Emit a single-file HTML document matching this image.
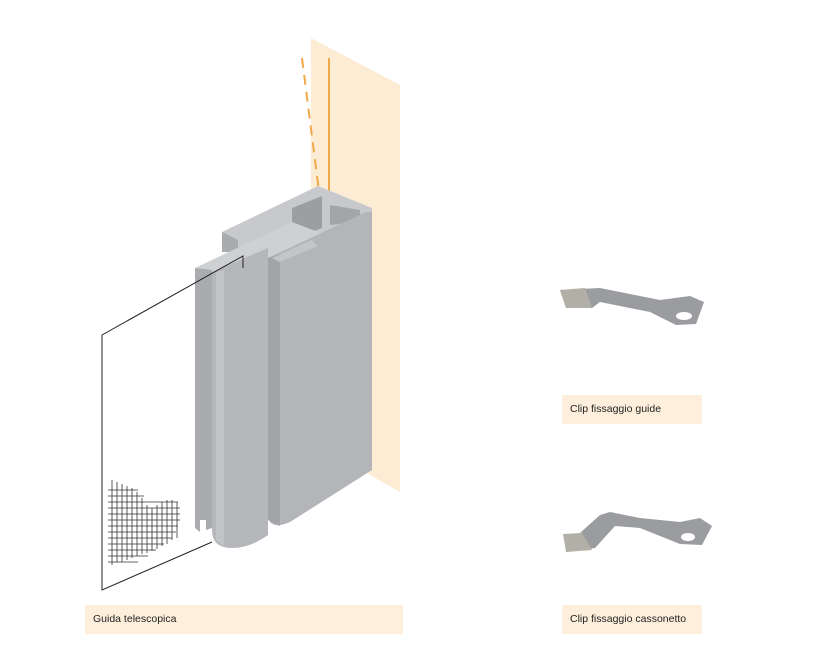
<!DOCTYPE html>
<html><head><style>
body{margin:0;background:#fff;width:815px;height:659px;overflow:hidden;font-family:"Liberation Sans",sans-serif}
.l{position:absolute;background:#fdefdc;font-size:10.5px;color:#222;line-height:29px;padding-left:8px;box-sizing:border-box}
</style></head><body>
<svg width="815" height="659" style="position:absolute;left:0;top:0">
<polygon points="311,38 400,85 400,492 372,476 311,440" fill="#fde9cc" opacity="0.85"/>
<line x1="302" y1="58" x2="322" y2="215" stroke="#f0a94a" stroke-width="2" stroke-dasharray="10,7"/>
<line x1="329" y1="58" x2="329" y2="225" stroke="#f0a94a" stroke-width="2"/>
<polygon points="222,232 318,186 372,208 372,222 268,262 222,250" fill="#c8c9cc"/>
<polygon points="222,232 222,252 238,252 238,240" fill="#a9abae"/>
<polygon points="292,208 322,196 322,228 292,240" fill="#9c9ea1"/>
<polygon points="330,205 360,210 360,222 330,225" fill="#a3a5a8"/>
<polygon points="195,268 292,222 318,232 322,236 268,262 212,278" fill="#cfd0d2"/>
<polygon points="195,268 212,270 212,528 206,530 206,520 200,520 200,532 195,528" fill="#a9abae"/>
<path d="M212,272 L268,248 L268,535 Q250,548 232,548 Q212,548 212,530 Z" fill="#b5b7ba"/>
<path d="M216,272 L224,270 L224,546 L216,540Z" fill="#c3c4c7"/>
<path d="M268,258 L366,212 L372,212 L372,470 L290,522 Q272,530 268,518 Z" fill="#b3b5b8"/>
<path d="M268,258 L280,254 L280,526 L268,520Z" fill="#a2a4a7"/>
<polygon points="272,258 312,240 318,246 280,262" fill="#c4c5c8"/>
<polyline points="243,268 243,256 102,335 102,590 212,542" fill="none" stroke="#222" stroke-width="1"/>
<g stroke="#333" stroke-width="0.8">
<path d="M112,480 v85 M117,482 v80 M122,484 v78 M127,486 v74 M132,488 v70 M137,492 v64 M142,498 v56 M147,505 v48 M152,508 v43 M157,505 v44 M162,502 v44 M167,500 v44 M172,500 v40 M177,502 v36"/>
<path d="M108,490 h30 M108,496 h36 M108,502 h70 M108,508 h72 M108,514 h72 M108,520 h72 M108,526 h70 M108,532 h68 M108,538 h64 M108,544 h56 M108,550 h48 M108,556 h40 M108,562 h30"/>
</g>
<path d="M560,290 L600,288 L660,300 L690,296 L704,302 L696,324 L676,325 L650,312 L600,302 L592,308 L566,308 Z" fill="#9a9ca0"/>
<path d="M560,290 L585,288 L592,308 L566,308Z" fill="#b2b0a6"/>
<ellipse cx="684" cy="316" rx="8" ry="4" fill="#fff"/>
<path d="M565,535 L580,533 L600,515 L610,512 L640,518 L680,522 L700,518 L712,526 L702,545 L680,544 L640,528 L615,526 L595,548 L567,552 Z" fill="#9a9ca0"/>
<path d="M563,534 L582,533 L592,550 L566,552Z" fill="#b2b0a6"/>
<ellipse cx="688" cy="537" rx="7" ry="4" fill="#fff"/>
</svg>
<div class="l" style="left:85px;top:605px;width:318px;height:29px">Guida telescopica</div>
<div class="l" style="left:562px;top:395px;width:140px;height:29px">Clip fissaggio guide</div>
<div class="l" style="left:562px;top:605px;width:140px;height:29px">Clip fissaggio cassonetto</div>
</body></html>
